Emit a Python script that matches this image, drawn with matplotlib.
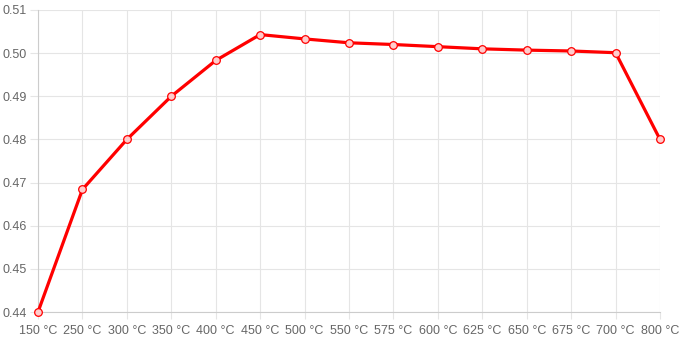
import matplotlib
matplotlib.use("Agg")
import matplotlib.pyplot as plt

categories = ["150 °C", "250 °C", "300 °C", "350 °C", "400 °C", "450 °C", "500 °C",
              "550 °C", "575 °C", "600 °C", "625 °C", "650 °C", "675 °C", "700 °C", "800 °C"]
values = [0.44, 0.4684, 0.48, 0.49, 0.4983, 0.5043, 0.5033, 0.5024, 0.5020,
          0.5015, 0.5010, 0.5007, 0.5005, 0.5001, 0.48]
yticks = [0.44, 0.45, 0.46, 0.47, 0.48, 0.49, 0.50, 0.51]

plt.rcParams['font.family'] = ['Liberation Sans', 'DejaVu Sans']

W, H = 682, 341
fig = plt.figure(figsize=(W/100, H/100), dpi=100)
ax = fig.add_axes([38/W, (H-312)/H, (660-38)/W, (312-10)/H])

x = list(range(len(categories)))
ax.plot(x, values, color='#ff0000', lw=2.3, zorder=3, solid_joinstyle='round',
        clip_on=False)
ax.plot(x, values, ls='none', marker='o', ms=5.5, mfc='#ffcccc',
        mec='#ff0000', mew=0.9, zorder=4, clip_on=False)

ax.set_xlim(0, len(categories)-1)
ax.set_ylim(0.44, 0.51)
ax.set_xticks(x)
ax.set_xticklabels(categories)
ax.set_yticks(yticks)
ax.set_yticklabels([f"{v:.2f}" for v in yticks])

grid_c = '#e5e5e5'
ax.set_axisbelow(True)
for s in ['top', 'right']:
    ax.spines[s].set_visible(False)
for s in ['left', 'bottom']:
    ax.spines[s].set_color('#cccccc')
    ax.spines[s].set_linewidth(0.8)
ax.tick_params(axis='both', color=grid_c, labelcolor='#666666', labelsize=9, width=0.8)
ax.tick_params(axis='x', length=5, pad=4)
ax.tick_params(axis='y', length=6, pad=2)
ax.xaxis.grid(True, color=grid_c, linewidth=0.8)
ax.yaxis.grid(True, color=grid_c, linewidth=0.8)

fig.savefig("out.png", dpi=100)
